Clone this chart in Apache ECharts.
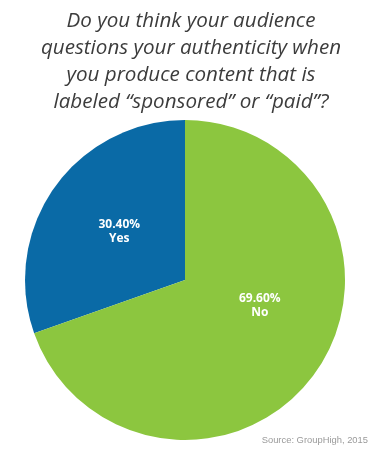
<!DOCTYPE html>
<html>
<head>
<meta charset="utf-8">
<script src="https://cdn.jsdelivr.net/npm/echarts@6/dist/echarts.min.js"></script>
<style>
html,body{margin:0;padding:0;background:#fff;}
#c{width:382px;height:454px;}
</style>
</head>
<body>
<div id="c"></div>
<script>
var titleText = 'Do you think your audience\nquestions your authenticity when\nyou produce content that is\nlabeled \u201csponsored\u201d or \u201cpaid\u201d?';
var sourceText = 'Source: GroupHigh, 2015';
var categories = ['Yes', 'No'];
var values = [30.40, 69.60];
var colors = ['#0a6aa6', '#8cc63f'];
var labelOffsets = [[2, 0], [7, -22]];

var chart = echarts.init(document.getElementById('c'), null, {renderer: 'canvas'});
chart.setOption({
  backgroundColor: '#ffffff',
  animation: false,
  title: [{
    text: titleText,
    left: 186,
    top: 3,
    textAlign: 'center',
    padding: 5,
    textStyle: {
      fontFamily: 'Open Sans',
      fontStyle: 'italic',
      fontWeight: 'normal',
      fontSize: 20.6,
      lineHeight: 27,
      color: '#3c3c3c'
    }
  }, {
    text: sourceText,
    right: 14,
    top: 436,
    padding: 0,
    textStyle: {
      fontFamily: 'Liberation Sans',
      fontWeight: 'normal',
      fontSize: 9.4,
      color: '#9a9a9a'
    }
  }],
  series: [{
    type: 'pie',
    center: [185, 280],
    radius: [0, 160],
    startAngle: 90,
    clockwise: false,
    silent: true,
    itemStyle: {borderWidth: 0},
    labelLine: {show: false},
    label: {
      show: true,
      position: 'inside',
      formatter: function (p) { return p.value.toFixed(2) + '%\n' + p.name; },
      color: '#ffffff',
      fontFamily: 'Open Sans',
      fontWeight: 'bold',
      fontSize: 12,
      lineHeight: 14
    },
    data: categories.map(function (c, i) {
      return {
        name: c,
        value: values[i],
        itemStyle: {color: colors[i]},
        label: {offset: labelOffsets[i]}
      };
    })
  }]
});
</script>
</body>
</html>
